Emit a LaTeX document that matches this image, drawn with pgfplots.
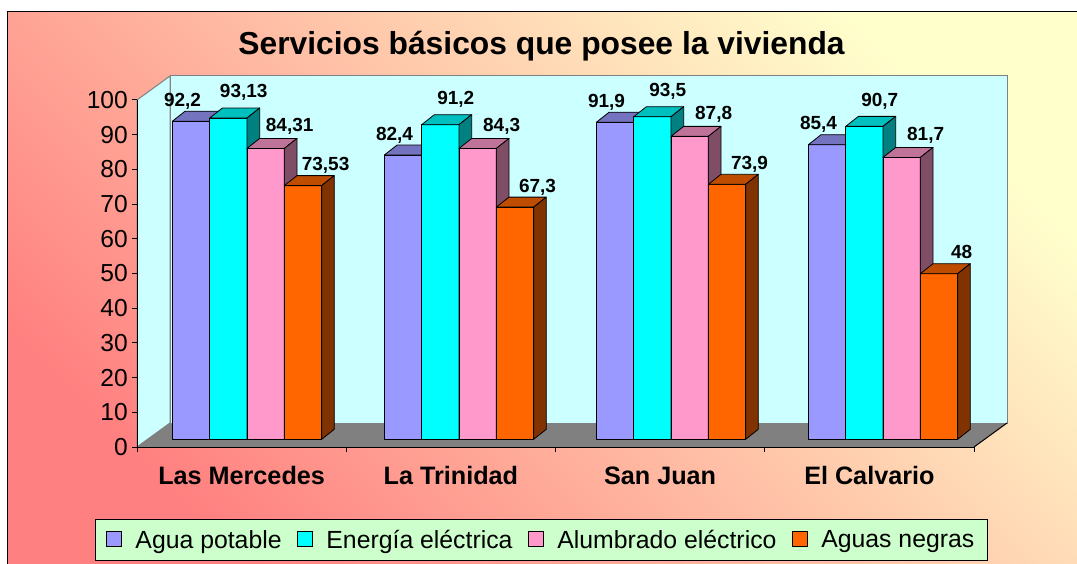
\documentclass[border=0pt]{standalone}
\usepackage{pgfplots}
\usepackage{pgfplotstable}
\pgfplotsset{compat=1.18}
\usepackage{fontspec}
\setmainfont{Liberation Sans}
\definecolor{bgA}{RGB}{255,128,128}
\definecolor{bgB}{RGB}{255,255,204}
\definecolor{wall}{RGB}{204,255,255}
\definecolor{floorc}{RGB}{128,128,128}
\definecolor{legbg}{RGB}{204,255,204}
\definecolor{sAf}{RGB}{153,153,255}\definecolor{sAt}{RGB}{115,115,191}\definecolor{sAs}{RGB}{77,77,128}
\definecolor{sBf}{RGB}{0,255,255}\definecolor{sBt}{RGB}{0,191,191}\definecolor{sBs}{RGB}{0,128,128}
\definecolor{sCf}{RGB}{255,153,204}\definecolor{sCt}{RGB}{191,115,153}\definecolor{sCs}{RGB}{128,77,102}
\definecolor{sDf}{RGB}{255,102,0}\definecolor{sDt}{RGB}{191,77,0}\definecolor{sDs}{RGB}{128,51,0}
\pgfdeclareplotmark{none3d}{}
\pgfplotstableread{
x  agua   energia  alumbrado  negras
0  92.2   93.13    84.31      73.53
1  82.4   91.2     84.3       67.3
2  91.9   93.5     87.8       73.9
3  85.4   90.7     81.7       48
}\datatable
\pgfplotsset{
  bar3d/.style n args={3}{
    only marks, scatter, mark=none3d,
    visualization depends on={rawy \as \hv},
    scatter/@pre marker code/.code={
      \filldraw[fill=#1, draw=black, line width=0.8pt, line join=round]
        (-18.66pt,{-\hv*3.45pt}) rectangle (18.66pt,0pt);
      \filldraw[fill=#2, draw=black, line width=0.8pt, line join=round]
        (-18.66pt,0pt) -- (18.66pt,0pt) -- (31.36pt,10pt) -- (-5.96pt,10pt) -- cycle;
      \filldraw[fill=#3, draw=black, line width=0.8pt, line join=round]
        (18.66pt,0pt) -- (31.36pt,10pt) -- (31.36pt,{10pt-\hv*3.45pt}) -- (18.66pt,{-\hv*3.45pt}) -- cycle;
    },
    scatter/@post marker code/.code={},
    legend image code/.code={\filldraw[fill=#1, draw=black, line width=0.8pt] (0pt,-7pt) rectangle (15pt,8pt);},
  },
  lbl/.style 2 args={
    forget plot, only marks, mark=none3d, point meta=rawy,
    nodes near coords={\pgfmathprintnumber[use comma, assume math mode=true]{\pgfplotspointmeta}},
    nodes near coords style={font=\fontsize{19}{21}\selectfont\bfseries, anchor=base, inner sep=0pt, xshift=#1, yshift=#2, text=black},
  },
}
\begin{document}
\begin{tikzpicture}
\path[use as bounding box] (0pt,0pt) rectangle (1077pt,563pt);
\fill[white] (0pt,0pt) rectangle (1077pt,563pt);
\shade[shading=axis, bottom color=bgA, top color=bgB, shading angle=-45] (7pt,-10pt) rectangle (1090pt,551pt);
\draw[black, line width=1pt] (7pt,-10pt) -- (7pt,551pt) -- (1090pt,551pt);
% walls and floor
\filldraw[fill=wall, draw=floorc, line width=1pt] (170pt,487pt) rectangle (1007pt,140pt);
\filldraw[fill=wall, draw=floorc, line width=1pt, line join=round] (137pt,463pt) -- (170pt,487pt) -- (170pt,140pt) -- (137pt,116pt) -- cycle;
\fill[floorc] (137pt,116pt) -- (974pt,116pt) -- (1007pt,140pt) -- (170pt,140pt) -- cycle;
\draw[black, line width=1pt] (974pt,116pt) -- (1007pt,140pt);
\begin{axis}[
  scale only axis, width=837pt, height=347pt,
  at={(137pt,116pt)}, anchor=south west,
  xmin=-0.5, xmax=3.5, ymin=0, ymax=100,
  axis lines*=left, axis line style={line width=1pt, black},
  ytick={0,10,...,100},
  xtick={-0.5,0.5,1.5,2.5,3.5},
  x tick label as interval,
  xticklabels={Las Mercedes, La Trinidad, San Juan, El Calvario},
  tick align=outside, major tick length=5pt,
  tick style={black, line width=1pt},
  /pgf/number format/assume math mode=true,
  yticklabel style={font=\fontsize{24.6}{28}\selectfont, inner sep=0pt, xshift=-4pt},
  xticklabel style={font=\fontsize{25.2}{29}\selectfont\bfseries, inner sep=0pt, text height=18pt, text depth=5pt, yshift=-14pt},
  title={Servicios básicos que posee la vivienda},
  title style={font=\fontsize{31.8}{36}\selectfont\bfseries, at={(axis description cs:0.4833,1)}, anchor=base, yshift=39pt, inner sep=0pt},
]
\end{axis}
\begin{axis}[
  scale only axis, width=848pt, height=345pt,
  at={(141pt,123.7pt)}, anchor=south west,
  xmin=-0.5, xmax=3.5, ymin=0, ymax=100,
  hide axis, clip=false,
  legend columns=4,
  legend style={at={(0.4723,-0.2296)}, anchor=north, fill=legbg, draw=black, line width=0.8pt,
    font=\fontsize{24.8}{28}\selectfont, inner xsep=10pt, inner ysep=5pt,
    nodes={inner xsep=3pt, inner ysep=6pt},
    /tikz/every even column/.append style={column sep=12pt},
    /tikz/every odd column/.append style={column sep=11pt}},
]
\addplot[bar3d={sAf}{sAt}{sAs}] table[x expr=\thisrow{x}-0.264, y=agua] {\datatable};
\addlegendentry{Agua potable}
\addplot[bar3d={sBf}{sBt}{sBs}] table[x expr=\thisrow{x}-0.088, y=energia] {\datatable};
\addlegendentry{Energía eléctrica}
\addplot[bar3d={sCf}{sCt}{sCs}] table[x expr=\thisrow{x}+0.088, y=alumbrado] {\datatable};
\addlegendentry{Alumbrado eléctrico}
\addplot[bar3d={sDf}{sDt}{sDs}] table[x expr=\thisrow{x}+0.264, y=negras] {\datatable};
\addlegendentry{Aguas negras}
% data labels
\addplot[lbl={-8.5pt}{15pt}] table[x expr=\thisrow{x}-0.264, y=agua] {\datatable};
\addplot[lbl={15.4pt}{20pt}] table[x expr=\thisrow{x}-0.088, y=energia] {\datatable};
\addplot[lbl={24pt}{17pt}] table[x expr=\thisrow{x}+0.088, y=alumbrado] {\datatable};
\addplot[lbl={22.6pt}{15pt}] table[x expr=\thisrow{x}+0.264, y=negras] {\datatable};
\end{axis}
\end{tikzpicture}
\end{document}
